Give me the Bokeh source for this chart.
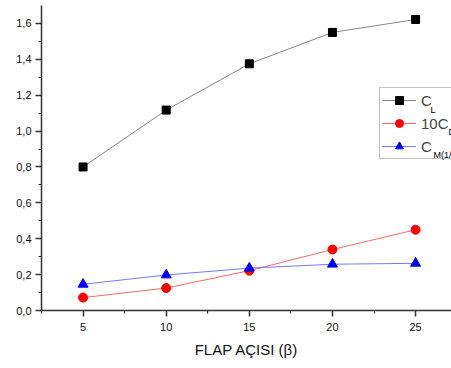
from bokeh.plotting import figure
from bokeh.models import Range1d, FixedTicker, Legend, LegendItem, Label
from bokeh.embed import file_html
from bokeh.resources import INLINE

# data
flap_angle = [5, 10, 15, 20, 25]
cl = [0.80, 1.117, 1.375, 1.55, 1.622]
cd10 = [0.072, 0.125, 0.222, 0.34, 0.45]
cm = [0.146, 0.198, 0.236, 0.258, 0.263]

x_ticks = [5, 10, 15, 20, 25]
x_minor = [2.5, 7.5, 12.5, 17.5, 22.5, 27.5]
y_ticks = [0.0, 0.2, 0.4, 0.6, 0.8, 1.0, 1.2, 1.4, 1.6]
y_minor = [0.1, 0.3, 0.5, 0.7, 0.9, 1.1, 1.3, 1.5]
y_tick_labels = ["0,0", "0,2", "0,4", "0,6", "0,8", "1,0", "1,2", "1,4", "1,6"]
x_label = "FLAP AÇISI (β)"
series_labels = ["C", "10C", "C"]
series_subs = ["L", "D", "M(1/4)"]

FONT = "Liberation Sans"

p = figure(width=451, height=368, output_backend="svg", toolbar_location=None,
           x_range=Range1d(2.5, 27.16), y_range=Range1d(0, 1.70),
           min_border_left=41, min_border_right=0, min_border_top=5, min_border_bottom=58)
p.outline_line_color = None
p.xgrid.visible = False
p.ygrid.visible = False

for ax in (p.xaxis[0], p.yaxis[0]):
    ax.axis_line_color = "#333333"
    ax.axis_line_width = 1.5
    ax.major_tick_line_color = "#333333"
    ax.minor_tick_line_color = "#333333"
    ax.major_tick_line_width = 1.5
    ax.minor_tick_line_width = 1.2
    ax.major_tick_in = 0
    ax.major_tick_out = 6
    ax.minor_tick_in = 0
    ax.minor_tick_out = 3
    ax.major_label_text_font = FONT
    ax.major_label_text_font_size = "11px"
    ax.major_label_text_color = "#111111"

p.xaxis.ticker = FixedTicker(ticks=x_ticks, minor_ticks=x_minor)
p.yaxis.ticker = FixedTicker(ticks=y_ticks, minor_ticks=y_minor)
p.yaxis.major_label_overrides = {t: l for t, l in zip(y_ticks, y_tick_labels)}
p.yaxis.major_label_standoff = 4
p.xaxis.major_label_standoff = 6
p.xaxis.axis_label = x_label
p.xaxis.axis_label_text_font = FONT
p.xaxis.axis_label_text_font_size = "15px"
p.xaxis.axis_label_text_font_style = "normal"
p.xaxis.axis_label_text_color = "#111111"
p.xaxis.axis_label_standoff = 7

l1 = p.line(flap_angle, cl, line_color="#888888", line_width=1)
m1 = p.scatter(flap_angle, cl, marker="square", size=8, fill_color="black", line_color="black")
l2 = p.line(flap_angle, cd10, line_color="#ff6666", line_width=1)
m2 = p.scatter(flap_angle, cd10, marker="circle", size=9, fill_color="red", line_color="red")
l3 = p.line(flap_angle, cm, line_color="#7777ff", line_width=1)
m3 = p.scatter(flap_angle, cm, marker="triangle", size=10, fill_color="blue", line_color="blue")

legend = Legend(items=[
    LegendItem(label=series_labels[0], renderers=[l1, m1]),
    LegendItem(label=series_labels[1], renderers=[l2, m2]),
    LegendItem(label=series_labels[2], renderers=[l3, m3]),
], location=(338, 151), margin=0, padding=2, spacing=3,
   glyph_width=34, glyph_height=20, label_standoff=5,
   label_text_font=FONT, label_text_font_size="15px",
   border_line_color="#888888", border_line_width=1,
   background_fill_color="white", background_fill_alpha=0)
p.add_layout(legend, "center")

# subscripts of legend labels (screen offsets from frame bottom-left)
sub_pos = [(389, 196), (407, 174), (392, 151)]
for s, (sx, sy) in zip(series_subs, sub_pos):
    p.add_layout(Label(x=sx, y=sy, x_units="screen", y_units="screen", text=s,
                       text_font=FONT, text_font_size="9px", text_color="black",
                       level="overlay"))

open("out.html", "w").write(file_html(p, INLINE))
